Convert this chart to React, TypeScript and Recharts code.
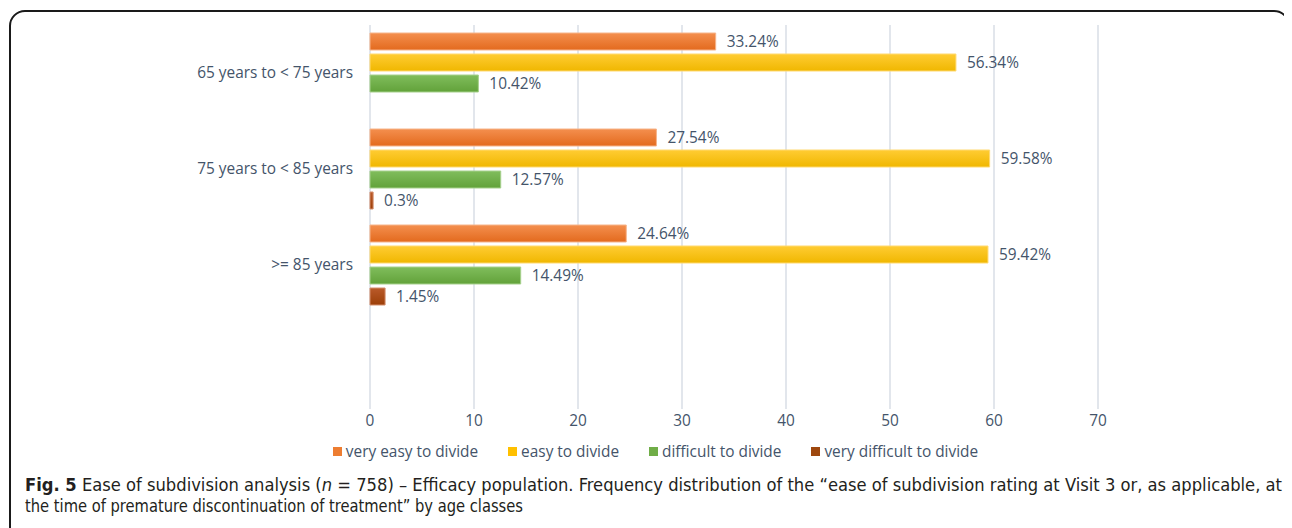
import React from "react"
import {
  BarChart,
  Bar,
  XAxis,
  YAxis,
  CartesianGrid,
  Legend,
  LabelList,
} from "recharts"

// age classes (last row is an empty spacer band)
const ageClasses = ["65 years to < 75 years", "75 years to < 85 years", ">= 85 years", ""]

const veryEasy = [33.24, 27.54, 24.64, null]
const easy = [56.34, 59.58, 59.42, null]
const difficult = [10.42, 12.57, 14.49, null]
const veryDifficult = [null, 0.3, 1.45, null]

const xTicks = [0, 10, 20, 30, 40, 50, 60, 70]

const seriesNames = [
  "very easy to divide",
  "easy to divide",
  "difficult to divide",
  "very difficult to divide",
]

const data = ageClasses.map((age, i) => ({
  age,
  veryEasy: veryEasy[i],
  easy: easy[i],
  difficult: difficult[i],
  veryDifficult: veryDifficult[i],
}))

const TEXT = "#44546A"
const FONT = "'Open Sans', sans-serif"
const FS = 15.4
const CAPTION_FONT = "'DejaVu Sans Condensed', 'Liberation Sans Narrow', sans-serif"

const series = [
  { key: "veryEasy", name: seriesNames[0], top: "#F48F4E", bottom: "#E36A1E", stroke: "#F6B48A", swatch: "#ED7D31" },
  { key: "easy", name: seriesNames[1], top: "#FFCC33", bottom: "#F0B700", stroke: "#FFD970", swatch: "#FFC000" },
  { key: "difficult", name: seriesNames[2], top: "#80BD5C", bottom: "#62A23A", stroke: "#A6D08C", swatch: "#70AD47" },
  { key: "veryDifficult", name: seriesNames[3], top: "#BA5A2A", bottom: "#9C3F08", stroke: "#D48E6C", swatch: "#9E480E" },
]

const fmt = (v: any) => (v == null ? "" : `${v}%`)

const LegendBox = () => (
  <div
    style={{
      height: 24,
      display: "flex",
      justifyContent: "center",
      alignItems: "center",
      paddingLeft: 11,
      fontFamily: FONT,
      fontSize: FS,
      color: TEXT,
      gap: 30,
    }}
  >
    {series.map((s) => (
      <div key={s.key} style={{ display: "flex", alignItems: "center", whiteSpace: "nowrap" }}>
        <span style={{ width: 9, height: 9, background: s.swatch, marginRight: 4, display: "inline-block" }} />
        <span>{s.name}</span>
      </div>
    ))}
  </div>
)

const Caption = () => (
  <svg width={1284} height={56} style={{ position: "absolute", left: 0, top: 464 }}>
    <text
      x={17}
      y={19}
      textLength={1257}
      lengthAdjust="spacingAndGlyphs"
      fontFamily={CAPTION_FONT}
      fontSize={18}
      fill="#231F20"
    >
      <tspan fontWeight="bold">Fig. 5</tspan> Ease of subdivision analysis (<tspan fontStyle="italic">n</tspan> = 758) – Efficacy population. Frequency distribution of the “ease of subdivision rating at Visit 3 or, as applicable, at
    </text>
    <text
      x={17}
      y={40}
      textLength={498}
      lengthAdjust="spacingAndGlyphs"
      fontFamily={CAPTION_FONT}
      fontSize={18}
      fill="#231F20"
    >
      the time of premature discontinuation of treatment” by age classes
    </text>
  </svg>
)

export default function App() {
  return (
    <div style={{ position: "relative", width: 1284, height: 520, overflow: "hidden" }}>
      <div
        style={{
          position: "absolute",
          left: 1,
          top: 2,
          width: 1281,
          height: 600,
          boxSizing: "border-box",
          border: "2px solid #1A1A1A",
          borderRadius: 16,
        }}
      />
      <div style={{ position: "absolute", left: 0, top: 0 }}>
        <BarChart
          width={1284}
          height={460}
          data={data}
          layout="vertical"
          margin={{ top: 17, right: 194, bottom: 5, left: 0 }}
          barCategoryGap={8}
          barGap={4}
        >
          <defs>
            {series.map((s) => (
              <linearGradient key={s.key} id={`grad-${s.key}`} x1="0" y1="0" x2="0" y2="1">
                <stop offset="0%" stopColor={s.top} />
                <stop offset="100%" stopColor={s.bottom} />
              </linearGradient>
            ))}
          </defs>
          <CartesianGrid horizontal={false} stroke="#D9DEE6" strokeWidth={1.5} />
          <XAxis
            type="number"
            domain={[0, 70]}
            ticks={xTicks}
            axisLine={false}
            tickLine={false}
            tickMargin={0}
            height={30}
            tick={{ fill: TEXT, fontSize: FS, fontFamily: FONT }}
          />
          <YAxis
            type="category"
            dataKey="age"
            width={362}
            axisLine={false}
            tickLine={false}
            tickMargin={11}
            interval={0}
            tick={{ fill: TEXT, fontSize: FS, fontFamily: FONT }}
          />
          <Legend
            verticalAlign="bottom"
            content={<LegendBox />}
            wrapperStyle={{ left: 0, width: 1284 }}
          />
          {series.map((s) => (
            <Bar
              key={s.key}
              dataKey={s.key}
              name={s.name}
              fill={`url(#grad-${s.key})`}
              stroke={s.stroke}
              strokeWidth={1}
              isAnimationActive={false}
            >
              <LabelList
                dataKey={s.key}
                position="right"
                offset={11}
                formatter={fmt}
                fill={TEXT}
                fontSize={FS}
                fontFamily={FONT}
              />
            </Bar>
          ))}
        </BarChart>
      </div>
      <Caption />
    </div>
  )
}
